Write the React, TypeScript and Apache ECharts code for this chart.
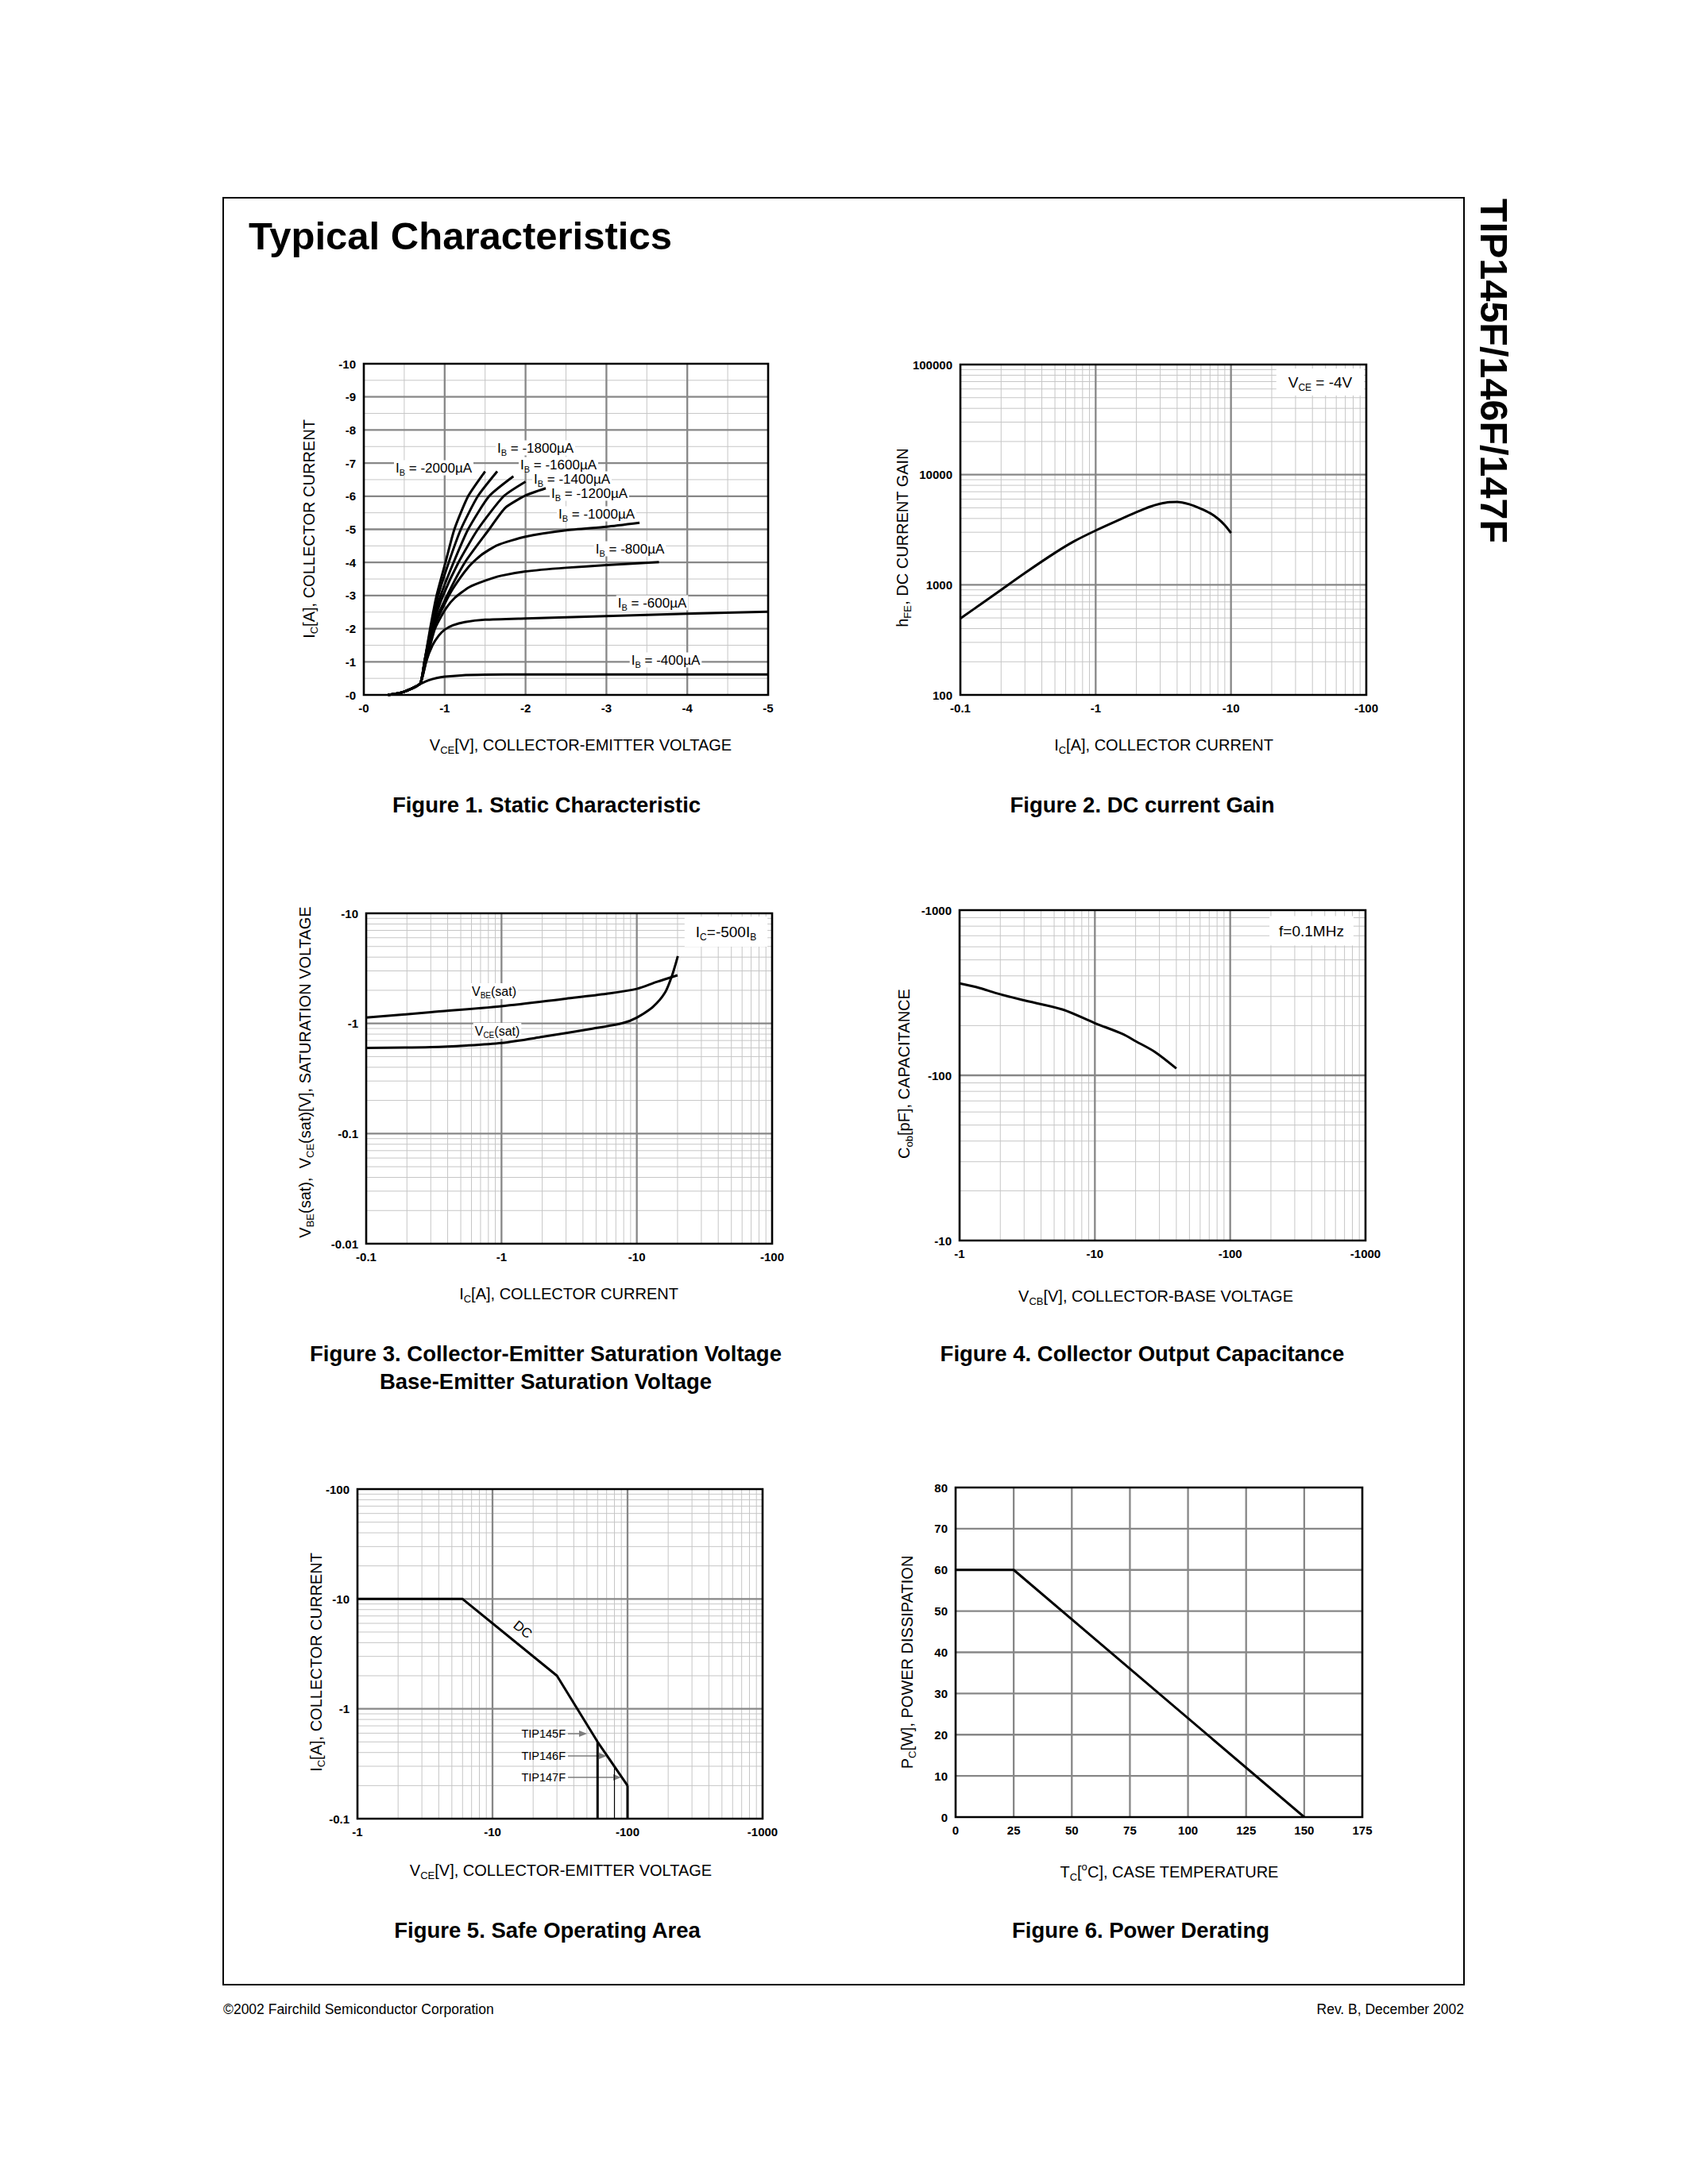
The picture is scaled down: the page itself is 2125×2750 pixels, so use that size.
import React, { useEffect, useRef } from 'react';
import * as echarts from 'echarts';

const FONT = '"Liberation Sans", Arial, Helvetica, sans-serif';
const MAJOR = '#878787';
const MINOR = '#c6c6c6';

// ---------------- Figure 1: Static Characteristic ([|VCE|, |IC|] pairs) ----------------
const fig1XTicks = ['-0', '-1', '-2', '-3', '-4', '-5'];
const fig1YTicks = ['-0', '-1', '-2', '-3', '-4', '-5', '-6', '-7', '-8', '-9', '-10'];
const fig1Ib400 = [[0.3, 0], [0.45, 0.06], [0.6, 0.2], [0.7, 0.33], [0.8, 0.44], [0.9, 0.51], [1.0, 0.55], [1.2, 0.59], [1.5, 0.61], [2.0, 0.62], [3.0, 0.62], [4.0, 0.62], [5.0, 0.62]];
const fig1Ib600 = [[0.3, 0], [0.45, 0.06], [0.6, 0.2], [0.7, 0.35], [0.77, 1.0], [0.85, 1.5], [0.93, 1.8], [1.0, 1.97], [1.1, 2.1], [1.25, 2.2], [1.5, 2.27], [2.0, 2.31], [3.0, 2.38], [4.0, 2.45], [5.0, 2.51]];
const fig1Ib800 = [[0.3, 0], [0.45, 0.06], [0.6, 0.2], [0.7, 0.35], [0.77, 1.0], [0.88, 2.0], [1.0, 2.55], [1.12, 2.92], [1.3, 3.25], [1.5, 3.45], [1.7, 3.6], [2.0, 3.73], [2.5, 3.84], [3.0, 3.92], [3.65, 4.01]];
const fig1Ib1000 = [[0.3, 0], [0.45, 0.06], [0.6, 0.2], [0.7, 0.35], [0.76, 1.0], [0.86, 2.0], [0.97, 2.6], [1.1, 3.2], [1.3, 3.88], [1.45, 4.22], [1.65, 4.52], [2.0, 4.78], [2.5, 4.97], [3.0, 5.08], [3.41, 5.2]];
const fig1Ib1200 = [[0.3, 0], [0.45, 0.06], [0.6, 0.2], [0.7, 0.35], [0.76, 1.0], [0.85, 2.0], [1.03, 3.0], [1.25, 4.0], [1.55, 5.0], [1.75, 5.65], [2.0, 6.02], [2.25, 6.24]];
const fig1Ib1400 = [[0.3, 0], [0.45, 0.06], [0.6, 0.2], [0.7, 0.35], [0.75, 1.0], [0.84, 2.0], [0.98, 3.0], [1.17, 4.0], [1.41, 5.0], [1.73, 6.0], [2.0, 6.44]];
const fig1Ib1600 = [[0.3, 0], [0.45, 0.06], [0.6, 0.2], [0.7, 0.35], [0.75, 1.0], [0.83, 2.0], [0.95, 3.0], [1.11, 4.0], [1.29, 5.0], [1.55, 6.0], [1.85, 6.6]];
const fig1Ib1800 = [[0.3, 0], [0.45, 0.06], [0.6, 0.2], [0.7, 0.35], [0.75, 1.0], [0.83, 2.0], [0.92, 3.0], [1.05, 4.0], [1.2, 5.0], [1.41, 6.0], [1.65, 6.75]];
const fig1Ib2000 = [[0.3, 0], [0.45, 0.06], [0.6, 0.2], [0.7, 0.35], [0.75, 1.0], [0.82, 2.0], [0.9, 3.0], [1.01, 4.0], [1.12, 5.0], [1.29, 6.0], [1.5, 6.75]];
const fig1Curves = [fig1Ib400, fig1Ib600, fig1Ib800, fig1Ib1000, fig1Ib1200, fig1Ib1400, fig1Ib1600, fig1Ib1800, fig1Ib2000];
const fig1CurveLabels = ['-400µA', '-600µA', '-800µA', '-1000µA', '-1200µA', '-1400µA', '-1600µA', '-1800µA', '-2000µA'];

// ---------------- Figure 2: DC current gain ----------------
const fig2XTicks = ['-0.1', '-1', '-10', '-100'];
const fig2YTicks = ['100', '1000', '10000', '100000'];
const fig2Ic = [0.1, 0.15, 0.2, 0.3, 0.5, 0.7, 1, 1.5, 2, 2.5, 3, 3.5, 4, 5, 6, 7, 8, 9, 10];
const fig2Hfe = [495, 700, 900, 1280, 1950, 2500, 3110, 3900, 4560, 5100, 5450, 5640, 5660, 5350, 4900, 4470, 3990, 3480, 2950];

// ---------------- Figure 3: Saturation voltages ----------------
const fig3XTicks = ['-0.1', '-1', '-10', '-100'];
const fig3YTicks = ['-0.01', '-0.1', '-1', '-10'];
const fig3IcBE = [0.1, 0.3, 1, 3, 6, 10, 14, 20];
const fig3VbeSat = [1.13, 1.265, 1.435, 1.68, 1.86, 2.06, 2.38, 2.74];
const fig3IcCE = [0.1, 0.3, 0.55, 1, 2, 4.7, 7.85, 10, 13.2, 16.1, 18.1, 19.2, 20.1];
const fig3VceSat = [0.6, 0.61, 0.63, 0.665, 0.755, 0.897, 1.006, 1.13, 1.42, 1.89, 2.66, 3.35, 4.09];

// ---------------- Figure 4: Collector output capacitance ----------------
const fig4XTicks = ['-1', '-10', '-100', '-1000'];
const fig4YTicks = ['-10', '-100', '-1000'];
const fig4Vcb = [1, 1.4, 1.85, 2.9, 5.8, 10, 16, 20, 28, 40];
const fig4Cob = [360, 338, 315, 286, 250, 207, 178, 161, 138, 110];

// ---------------- Figure 5: Safe operating area ----------------
const fig5XTicks = ['-1', '-10', '-100', '-1000'];
const fig5YTicks = ['-0.1', '-1', '-10', '-100'];
const fig5DcV = [1, 6, 30, 60, 100];
const fig5DcI = [10, 10, 2, 0.5, 0.2];
const fig5Tip145V = [60, 60];
const fig5Tip145I = [0.5, 0.1];
const fig5Tip146V = [80, 80];
const fig5Tip146I = [0.3, 0.1];
const fig5Tip147V = [100, 100];
const fig5Tip147I = [0.2, 0.1];

// ---------------- Figure 6: Power derating ----------------
const fig6XTicks = ['0', '25', '50', '75', '100', '125', '150', '175'];
const fig6YTicks = ['0', '10', '20', '30', '40', '50', '60', '70', '80'];
const fig6Tc = [0, 25, 150];
const fig6Pc = [60, 60, 0];

// ---------------- helpers ----------------
const zip = (xs: number[], ys: number[]) => xs.map((x, i) => [x, ys[i]]);

const fmt = (labels: string[]) => (v: number) => {
  const hit = labels.find((l) => Math.abs(Math.abs(parseFloat(l)) - v) <= 1e-6 * Math.max(1, Math.abs(v)));
  return hit === undefined ? '' : hit;
};

const logMinor = (lo: number, hi: number) => {
  const out: number[] = [];
  for (let d = lo; d < hi * 0.999; d *= 10) for (let k = 2; k <= 9; k++) out.push(+(d * k).toPrecision(6));
  return out;
};
const logMajor = (lo: number, hi: number) => {
  const out: number[] = [];
  for (let d = lo * 10; d < hi * 0.999; d *= 10) out.push(+d.toPrecision(6));
  return out;
};

const GRIDS = [
  { left: 458, top: 458, width: 509, height: 417 },
  { left: 1209, top: 459, width: 511, height: 416 },
  { left: 461, top: 1150, width: 511, height: 416 },
  { left: 1208, top: 1146, width: 511, height: 416 },
  { left: 450, top: 1875, width: 510, height: 415 },
  { left: 1203, top: 1873, width: 512, height: 415 },
];

type AxisSpec = { type: 'value' | 'log'; min: number; max: number; interval?: number; ticks: string[]; minor: number[]; major: number[] };

const AXES: { x: AxisSpec; y: AxisSpec }[] = [
  {
    x: { type: 'value', min: 0, max: 5, interval: 1, ticks: fig1XTicks, minor: [0.5, 1.5, 2.5, 3.5, 4.5], major: [1, 2, 3, 4] },
    y: { type: 'value', min: 0, max: 10, interval: 1, ticks: fig1YTicks, minor: [0.5, 1.5, 2.5, 3.5, 4.5, 5.5, 6.5, 7.5, 8.5, 9.5], major: [1, 2, 3, 4, 5, 6, 7, 8, 9] },
  },
  {
    x: { type: 'log', min: 0.1, max: 100, ticks: fig2XTicks, minor: logMinor(0.1, 100), major: logMajor(0.1, 100) },
    y: { type: 'log', min: 100, max: 100000, ticks: fig2YTicks, minor: logMinor(100, 100000), major: logMajor(100, 100000) },
  },
  {
    x: { type: 'log', min: 0.1, max: 100, ticks: fig3XTicks, minor: logMinor(0.1, 100), major: logMajor(0.1, 100) },
    y: { type: 'log', min: 0.01, max: 10, ticks: fig3YTicks, minor: logMinor(0.01, 10), major: logMajor(0.01, 10) },
  },
  {
    x: { type: 'log', min: 1, max: 1000, ticks: fig4XTicks, minor: logMinor(1, 1000), major: logMajor(1, 1000) },
    y: { type: 'log', min: 10, max: 1000, ticks: fig4YTicks, minor: logMinor(10, 1000), major: logMajor(10, 1000) },
  },
  {
    x: { type: 'log', min: 1, max: 1000, ticks: fig5XTicks, minor: logMinor(1, 1000), major: logMajor(1, 1000) },
    y: { type: 'log', min: 0.1, max: 100, ticks: fig5YTicks, minor: logMinor(0.1, 100), major: logMajor(0.1, 100) },
  },
  {
    x: { type: 'value', min: 0, max: 175, interval: 25, ticks: fig6XTicks, minor: [], major: [25, 50, 75, 100, 125, 150] },
    y: { type: 'value', min: 0, max: 80, interval: 10, ticks: fig6YTicks, minor: [], major: [10, 20, 30, 40, 50, 60, 70] },
  },
];

const makeAxis = (gi: number, s: AxisSpec, margin: number) => ({
  gridIndex: gi,
  type: s.type,
  min: s.min,
  max: s.max,
  ...(s.type === 'log' ? { logBase: 10 } : { interval: s.interval }),
  axisLine: { show: false },
  axisTick: { show: false },
  splitLine: { show: false },
  minorTick: { show: false },
  minorSplitLine: { show: false },
  axisLabel: {
    show: true,
    fontFamily: FONT,
    fontWeight: 'bold',
    fontSize: 15,
    color: '#000',
    margin,
    showMinLabel: true,
    showMaxLabel: true,
    hideOverlap: false,
    formatter: fmt(s.ticks),
  },
});

const frameSeries = (gi: number, a: { x: AxisSpec; y: AxisSpec }) => ({
  type: 'custom',
  xAxisIndex: gi,
  yAxisIndex: gi,
  z: 1,
  silent: true,
  clip: false,
  data: [[a.x.min, a.y.min]],
  renderItem: (_p: any, api: any) => {
    const ch: any[] = [];
    const seg = (p: number[], q: number[], stroke: string, lw: number) =>
      ch.push({ type: 'line', shape: { x1: p[0], y1: p[1], x2: q[0], y2: q[1] }, style: { stroke, lineWidth: lw } });
    a.x.minor.forEach((v) => seg(api.coord([v, a.y.min]), api.coord([v, a.y.max]), MINOR, 1));
    a.y.minor.forEach((v) => seg(api.coord([a.x.min, v]), api.coord([a.x.max, v]), MINOR, 1));
    a.x.major.forEach((v) => seg(api.coord([v, a.y.min]), api.coord([v, a.y.max]), MAJOR, 2.3));
    a.y.major.forEach((v) => seg(api.coord([a.x.min, v]), api.coord([a.x.max, v]), MAJOR, 2.3));
    const tl = api.coord([a.x.min, a.y.max]);
    const br = api.coord([a.x.max, a.y.min]);
    ch.push({ type: 'rect', shape: { x: tl[0], y: tl[1], width: br[0] - tl[0], height: br[1] - tl[1] }, style: { fill: 'none', stroke: '#000', lineWidth: 2.6 } });
    return { type: 'group', children: ch };
  },
});

const curve = (gi: number, data: number[][], width = 3, smooth: number | boolean = 0.3) => ({
  type: 'line',
  xAxisIndex: gi,
  yAxisIndex: gi,
  data,
  symbol: 'none',
  showSymbol: false,
  silent: true,
  z: 3,
  smooth,
  lineStyle: { color: '#000', width, join: 'round' },
});

const R = (...parts: string[][]) => parts.map(([k, t]) => `{${k}|${t}}`).join('');

function rich(fs: number, lh: number, bold = false) {
  const sub = Math.round(fs * 0.65);
  const base = { fontFamily: FONT, fill: '#000', lineHeight: lh };
  return {
    n: { ...base, fontSize: fs, fontWeight: bold ? 'bold' : 'normal' },
    s: { ...base, fontSize: sub, padding: [Math.round(fs * 0.66), 0, 0, 0] },
    p: { ...base, fontSize: sub, padding: [0, 0, Math.round(fs * 0.72), 0] },
  };
}

function label(x: number, y: number, text: string, fs: number, o: any = {}) {
  const align = o.align || 'center';
  const style: any = {
    text,
    fontSize: fs,
    fontFamily: FONT,
    fontWeight: o.bold ? 'bold' : 'normal',
    fill: o.color || '#000',
    align,
    verticalAlign: 'middle',
    textAlign: align,
    textVerticalAlign: 'middle',
  };
  if (o.rich) style.rich = rich(fs, o.lh || fs + 8, o.bold);
  if (o.bg) {
    style.backgroundColor = o.bg;
    style.padding = o.pad || [0, 2];
  }
  return { type: 'text', x, y, rotation: o.rot || 0, z: 2, silent: true, style };
}

const arrow = (x1: number, x2: number, y: number) => [
  { type: 'line', z: 2, silent: true, shape: { x1, y1: y, x2: x2 - 8, y2: y }, style: { stroke: '#7d7d7d', lineWidth: 1.5 } },
  { type: 'polygon', z: 2, silent: true, shape: { points: [[x2, y], [x2 - 10, y - 4], [x2 - 10, y + 4]] }, style: { fill: '#7d7d7d' } },
];

function buildOption() {
  const grid = GRIDS.map((g) => ({ ...g, containLabel: false, outerBoundsMode: 'none', show: false }));
  const xAxis = AXES.map((a, i) => makeAxis(i, a.x, 9));
  const yAxis = AXES.map((a, i) => makeAxis(i, a.y, 10));

  const series: any[] = AXES.map((a, i) => frameSeries(i, a));
  fig1Curves.forEach((c) => series.push(curve(0, c, 3, 0.2)));
  series.push(curve(1, zip(fig2Ic, fig2Hfe), 3, 0.3));
  series.push(curve(2, zip(fig3IcBE, fig3VbeSat), 3, 0.3));
  series.push(curve(2, zip(fig3IcCE, fig3VceSat), 3, 0.3));
  series.push(curve(3, zip(fig4Vcb, fig4Cob), 3, 0.3));
  series.push(curve(4, zip(fig5DcV, fig5DcI), 3, false));
  series.push(curve(4, zip(fig5Tip145V, fig5Tip145I), 3, false));
  series.push(curve(4, zip(fig5Tip146V, fig5Tip146I), 1.2, false));
  series.push(curve(4, zip(fig5Tip147V, fig5Tip147I), 3, false));
  series.push(curve(5, zip(fig6Tc, fig6Pc), 3, false));

  const ibPos = [
    [838, 831], [821, 759], [793, 691], [751, 647], [742, 621], [720, 603], [703, 585], [674, 564], [546, 589],
  ];

  const elements: any[] = [
    { type: 'rect', z: 0, silent: true, shape: { x: 281, y: 249, width: 1562, height: 2250 }, style: { fill: 'none', stroke: '#000', lineWidth: 2 } },
    label(313, 297, 'Typical Characteristics', 49, { bold: true, align: 'left' }),
    label(1881, 250, 'TIP145F/146F/147F', 48.5, { bold: true, align: 'left', rot: -Math.PI / 2 }),
    label(281, 2530, '©2002 Fairchild Semiconductor Corporation', 17.5, { align: 'left' }),
    label(1843, 2530, 'Rev. B, December 2002', 17.5, { align: 'right' }),

    // captions
    label(688, 1013, 'Figure 1. Static Characteristic', 27.5, { bold: true }),
    label(1438, 1013, 'Figure 2. DC current Gain', 27.5, { bold: true }),
    label(687, 1704, 'Figure 3. Collector-Emitter Saturation Voltage', 27.5, { bold: true }),
    label(687, 1739, 'Base-Emitter Saturation Voltage', 27.5, { bold: true }),
    label(1438, 1704, 'Figure 4. Collector Output Capacitance', 27.5, { bold: true }),
    label(689, 2430, 'Figure 5. Safe Operating Area', 27.5, { bold: true }),
    label(1436, 2430, 'Figure 6. Power Derating', 27.5, { bold: true }),

    // x axis names
    label(731, 938, R(['n', 'V'], ['s', 'CE'], ['n', '[V], COLLECTOR-EMITTER VOLTAGE']), 20, { rich: true }),
    label(1465, 938, R(['n', 'I'], ['s', 'C'], ['n', '[A], COLLECTOR CURRENT']), 20, { rich: true }),
    label(716, 1629, R(['n', 'I'], ['s', 'C'], ['n', '[A], COLLECTOR CURRENT']), 20, { rich: true }),
    label(1455, 1632, R(['n', 'V'], ['s', 'CB'], ['n', '[V], COLLECTOR-BASE VOLTAGE']), 20, { rich: true }),
    label(706, 2355, R(['n', 'V'], ['s', 'CE'], ['n', '[V], COLLECTOR-EMITTER VOLTAGE']), 20, { rich: true }),
    label(1472, 2357, R(['n', 'T'], ['s', 'C'], ['n', '['], ['p', 'o'], ['n', 'C], CASE TEMPERATURE']), 20, { rich: true }),

    // y axis names
    label(389, 666, R(['n', 'I'], ['s', 'C'], ['n', '[A], COLLECTOR CURRENT']), 20, { rich: true, rot: Math.PI / 2 }),
    label(1136, 677, R(['n', 'h'], ['s', 'FE'], ['n', ', DC CURRENT GAIN']), 20, { rich: true, rot: Math.PI / 2 }),
    label(384, 1350, R(['n', 'V'], ['s', 'BE'], ['n', '(sat),  V'], ['s', 'CE'], ['n', '(sat)[V], SATURATION VOLTAGE']), 20, { rich: true, rot: Math.PI / 2 }),
    label(1138, 1352, R(['n', 'C'], ['s', 'ob'], ['n', '[pF], CAPACITANCE']), 20, { rich: true, rot: Math.PI / 2 }),
    label(398, 2093, R(['n', 'I'], ['s', 'C'], ['n', '[A], COLLECTOR CURRENT']), 20, { rich: true, rot: Math.PI / 2 }),
    label(1142, 2093, R(['n', 'P'], ['s', 'C'], ['n', '[W], POWER DISSIPATION']), 20, { rich: true, rot: Math.PI / 2 }),

    // annotations
    label(1662, 481, R(['n', 'V'], ['s', 'CE'], ['n', ' = -4V']), 19, { rich: true, lh: 26, bg: '#fff', pad: [4, 15] }),
    label(914, 1173, R(['n', 'I'], ['s', 'C'], ['n', '=-500I'], ['s', 'B']), 19, { rich: true, lh: 28, bg: '#fff', pad: [5, 14] }),
    label(1651, 1172, R(['n', 'f=0.1MHz']), 19, { rich: true, lh: 27, bg: '#fff', pad: [5, 12] }),
    label(622, 1248, R(['n', 'V'], ['s', 'BE'], ['n', '(sat)']), 16, { rich: true, lh: 20, bg: '#fff', pad: [0, 2] }),
    label(626, 1298, R(['n', 'V'], ['s', 'CE'], ['n', '(sat)']), 16, { rich: true, lh: 20, bg: '#fff', pad: [0, 2] }),
    label(658, 2052, 'DC', 17, { rot: -0.68 }),
    label(712, 2183, 'TIP145F', 14.5, { align: 'right' }),
    label(712, 2211, 'TIP146F', 14.5, { align: 'right' }),
    label(712, 2238, 'TIP147F', 14.5, { align: 'right' }),
    ...arrow(715, 739, 2183),
    ...arrow(715, 764, 2211),
    ...arrow(715, 782, 2238),
  ];

  fig1CurveLabels.forEach((t, i) => {
    elements.push(label(ibPos[i][0], ibPos[i][1], R(['n', 'I'], ['s', 'B'], ['n', ' = ' + t]), 17, { rich: true, lh: 19, bg: '#fff', pad: [0, 2] }));
  });

  return {
    animation: false,
    backgroundColor: '#fff',
    grid,
    xAxis,
    yAxis,
    series,
    graphic: { elements },
  };
}

export default function App() {
  const ref = useRef<HTMLDivElement>(null);
  useEffect(() => {
    if (!ref.current) return;
    const chart = echarts.init(ref.current, null, { renderer: 'svg' });
    chart.setOption(buildOption() as any);
    return () => chart.dispose();
  }, []);
  return <div ref={ref} style={{ position: 'absolute', left: 0, top: 0, width: 2125, height: 2750, background: '#fff' }} />;
}
